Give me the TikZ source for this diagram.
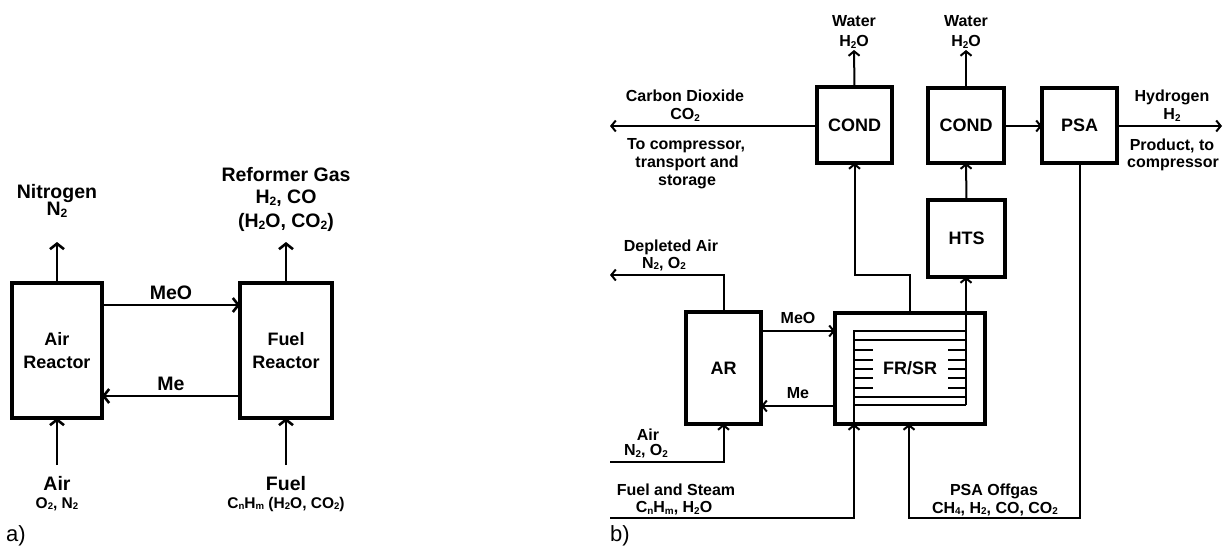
\documentclass[tikz,border=0pt]{standalone}
\usepackage{fontspec}
\setmainfont{Liberation Sans}
\usetikzlibrary{arrows.meta}
\newcommand\sbs[1]{\raisebox{-0.18ex}{\scalebox{0.62}{#1}}}
\begin{document}
\begin{tikzpicture}[x=1pt,y=-1pt,
  boxa/.style={draw, line width=4pt, inner sep=0pt, outer sep=0pt, align=center,
    font=\fontsize{18}{23}\selectfont\bfseries},
  boxb/.style={draw, line width=3.2pt, inner sep=0pt, outer sep=0pt, align=center,
    font=\fontsize{18}{22}\selectfont\bfseries},
  conna/.style={line width=2.6pt, -{Straight Barb[length=5.5pt,width=14pt]}},
  connb/.style={line width=2pt, -{Straight Barb[length=4.5pt,width=11pt]}},
  plainb/.style={line width=2pt},
  la/.style={anchor=base, inner sep=0pt, font=\fontsize{19.5}{23}\selectfont\bfseries},
  las/.style={anchor=base, inner sep=0pt, font=\fontsize{15.5}{18}\selectfont\bfseries},
  lb/.style={anchor=base, inner sep=0pt, font=\fontsize{16}{18}\selectfont\bfseries},
  panel/.style={anchor=base west, inner sep=0pt, font=\fontsize{22}{26}\selectfont}
]
\useasboundingbox (0,0) rectangle (1223,549);

% ---------------- panel a ----------------
\node[boxa, minimum width=90pt, minimum height=135pt] (arA) at (57,350.5) {Air\\Reactor};
\node[boxa, minimum width=92pt, minimum height=135pt] (frA) at (286,350.5) {Fuel\\Reactor};

\coordinate (nitEnd) at (57,242);
\coordinate (refEnd) at (286,242);
\coordinate (airA) at (57,465);
\coordinate (fuelA) at (286,465);
\coordinate (meoY) at (0,305);
\coordinate (meY) at (0,396);

\draw[conna] (arA.north) -- (nitEnd);
\draw[conna] (frA.north) -- (refEnd);
\draw[conna] (airA) -- (arA.south);
\draw[conna] (fuelA) -- (frA.south);
\draw[conna] (arA.east |- meoY) -- (frA.west |- meoY);
\draw[conna] (frA.west |- meY) -- (arA.east |- meY);

\node[la] (tNit1) at (57,198) {Nitrogen};
\node[la] (tNit2) at (57,215.5) {N\sbs{2}};
\node[la] (tRef1) at (286,181) {Reformer Gas};
\node[la] (tRef2) at (286,203.5) {H\sbs{2}, CO};
\node[la] (tRef3) at (286,227.5) {(H\sbs{2}O, CO\sbs{2})};
\node[la] (tMeoA) at (171,299) {MeO};
\node[la] (tMeA) at (171,390) {Me};
\node[la] (tAirA1) at (57,490) {Air};
\node[las] (tAirA2) at (57,508) {O\sbs{2}, N\sbs{2}};
\node[la] (tFuelA1) at (286,490) {Fuel};
\node[las] (tFuelA2) at (286,508) {C\sbs{n}H\sbs{m} (H\sbs{2}O, CO\sbs{2})};
\node[panel] (labA) at (6,541) {a)};

% ---------------- panel b ----------------
\node[boxb, minimum width=75pt, minimum height=76pt] (cond1) at (854.5,125) {COND};
\node[boxb, minimum width=76pt, minimum height=75pt] (cond2) at (966,125.5) {COND};
\node[boxb, minimum width=75pt, minimum height=75pt] (psa) at (1079.5,125.5) {PSA};
\node[boxb, minimum width=77pt, minimum height=77pt] (hts) at (966.5,238.5) {HTS};
\node[boxb, minimum width=75pt, minimum height=112pt] (arB) at (723.5,368) {AR};
\node[boxb, minimum width=150pt, minimum height=111pt] (frB) at (910,368.5) {};
\node[inner sep=0pt, font=\fontsize{18}{22}\selectfont\bfseries] (frText) at (910,368.5) {FR/SR};

% inner reformer structure
\coordinate (in1) at (854,331);
\coordinate (in2) at (966,331);
\coordinate (in3) at (966,405);
\coordinate (in4) at (854,405);
\draw[plainb] (in1 |- frB.south) -- (in1) -- (in2);
\draw[plainb] (in4) -- (in3);
\draw[plainb] (854,340) -- (966,340);
\draw[plainb] (854,397) -- (966,397);
\foreach \yy in {350,359.5,368.5,378,388}{
  \draw[plainb] (854,\yy) -- (873,\yy);
  \draw[plainb] (948,\yy) -- (966,\yy);
}
\draw[connb] (in3) -- (in3 |- hts.south);

% coordinates for free ends
\coordinate (w1) at (854,50);
\coordinate (w2) at (966,50);
\coordinate (co2End) at (610,126);
\coordinate (h2End) at (1222,126);
\coordinate (yLine) at (0,275);
\coordinate (depEnd) at (610,275);
\coordinate (airIn) at (610,462);
\coordinate (fuelIn) at (610,518);
\coordinate (ogX) at (909,0);
\coordinate (meoB) at (0,331);
\coordinate (meB) at (0,406);

\draw[connb] (cond1.north) -- (w1);
\draw[connb] (cond2.north) -- (w2);
\draw[connb] (cond1.west |- co2End) -- (co2End);
\draw[connb] (cond2.east |- co2End) -- (psa.west |- co2End);
\draw[connb] (psa.east |- h2End) -- (h2End);
\draw[connb] (hts.north) -- (cond2.south);
\draw[connb] (frB.north) -- (frB.north |- yLine) -| (cond1.south);
\draw[connb] (arB.north) -- (arB.north |- yLine) -- (depEnd);
\draw[connb] (arB.east |- meoB) -- (frB.west |- meoB);
\draw[connb] (frB.west |- meB) -- (arB.east |- meB);
\draw[connb] (airIn) -| (arB.south);
\draw[connb] (fuelIn) -| (in1 |- frB.south);
\draw[connb] (psa.south) |- (ogX |- fuelIn) -- (ogX |- frB.south);

% labels panel b
\node[lb] (tW1a) at (854,26) {Water};
\node[lb] (tW1b) at (854,46.5) {H\sbs{2}O};
\node[lb] (tW2a) at (966,26) {Water};
\node[lb] (tW2b) at (966,46.5) {H\sbs{2}O};
\node[lb] (tCO2a) at (685,101.5) {Carbon Dioxide};
\node[lb] (tCO2b) at (685,119.5) {CO\sbs{2}};
\node[lb] (tCO2c) at (686,149) {To compressor,};
\node[lb] (tCO2d) at (687,167) {transport and};
\node[lb] (tCO2e) at (687,185) {storage};
\node[lb] (tH2a) at (1172,101.5) {Hydrogen};
\node[lb] (tH2b) at (1172,119.5) {H\sbs{2}};
\node[lb] (tH2c) at (1172,150) {Product, to};
\node[lb] (tH2d) at (1173,167) {compressor};
\node[lb] (tDepa) at (671,251) {Depleted Air};
\node[lb] (tDepb) at (664,268) {N\sbs{2}, O\sbs{2}};
\node[lb] (tMeoB) at (798,323) {MeO};
\node[lb] (tMeB) at (798,398) {Me};
\node[lb] (tAirBa) at (648,440) {Air};
\node[lb] (tAirBb) at (646,455.5) {N\sbs{2}, O\sbs{2}};
\node[lb] (tFuelBa) at (676,495) {Fuel and Steam};
\node[lb] (tFuelBb) at (674,512.5) {C\sbs{n}H\sbs{m}, H\sbs{2}O};
\node[lb] (tOga) at (994,495) {PSA Offgas};
\node[lb] (tOgb) at (995,513) {CH\sbs{4}, H\sbs{2}, CO, CO\sbs{2}};
\node[panel] (labB) at (610,541) {b)};
\end{tikzpicture}
\end{document}
